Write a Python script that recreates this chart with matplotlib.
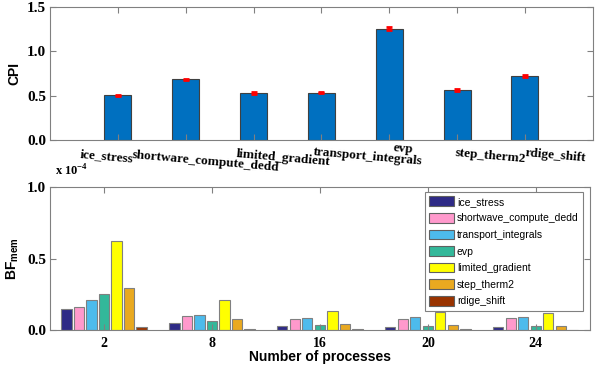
import matplotlib
matplotlib.use("Agg")
import matplotlib.pyplot as plt
import matplotlib.transforms as mtransforms
import numpy as np

# top panel: CPI per kernel
kernels = ["ice_stress", "shortware_compute_dedd", "limited_gradient",
           "transport_integrals", "evp", "step_therm2", "rdige_shift"]
cpi = [0.504, 0.684, 0.526, 0.533, 1.255, 0.560, 0.720]
cpi_err = [0.008, 0.008, 0.012, 0.009, 0.015, 0.009, 0.010]

# bottom panel: BF_mem per process count
procs = ["2", "8", "16", "20", "24"]
series = ["ice_stress", "shortwave_compute_dedd", "transport_integrals", "evp",
          "limited_gradient", "step_therm2", "rdige_shift"]
bf_ice = [0.147, 0.047, 0.030, 0.021, 0.019]
bf_short = [0.164, 0.096, 0.075, 0.077, 0.082]
bf_trans = [0.210, 0.107, 0.082, 0.089, 0.089]
bf_evp = [0.252, 0.065, 0.035, 0.030, 0.028]
bf_limited = [0.621, 0.208, 0.131, 0.126, 0.119]
bf_step = [0.292, 0.075, 0.040, 0.033, 0.028]
bf_rdige = [0.019, 0.007, 0.007, 0.007, 0.003]
bf_values = [bf_ice, bf_short, bf_trans, bf_evp, bf_limited, bf_step, bf_rdige]
colors = ["#2e2a86", "#ff99cc", "#4dbbec", "#33b89a", "#ffff00", "#e9a920", "#993300"]

serif = {"family": "Liberation Serif", "weight": "bold"}
sans = {"family": "Liberation Sans", "weight": "bold"}
grey = "#808080"

fig = plt.figure(figsize=(6.03, 3.72), dpi=100)
ax1 = fig.add_axes([0.083, 0.624, 0.900, 0.357])
ax2 = fig.add_axes([0.083, 0.113, 0.895, 0.384])

# --- top ---
x = np.arange(1, len(kernels) + 1)
ax1.bar(x, cpi, width=0.4, color="#0070c0", edgecolor="#404040", linewidth=0.8)
ax1.errorbar(x, cpi, yerr=cpi_err, fmt="none", ecolor="red", elinewidth=2,
             capsize=2.5, capthick=2)
ax1.set_xlim(0, len(kernels) + 1)
ax1.set_ylim(0, 1.5)
ax1.set_yticks([0, 0.5, 1.0, 1.5])
ax1.set_yticklabels(["0.0", "0.5", "1.0", "1.5"], fontdict=serif, fontsize=11)
ax1.set_xticks(x)
ax1.set_xticklabels([])
# the labels in the original sit a bit off their ticks (pixels: right, down)
label_shift = [(-11, 17), (20, 22), (30, 18), (46, 17), (14, 9), (33, 16), (31, 16)]
for xi, name, (dx, dy) in zip(x, kernels, label_shift):
    off = mtransforms.ScaledTranslation(dx / 100, -dy / 100, fig.dpi_scale_trans)
    ax1.text(xi, 0, name, transform=ax1.get_xaxis_transform() + off,
             fontdict=serif, fontsize=9.5, rotation=-5, rotation_mode="anchor",
             ha="center", va="center")
ax1.set_ylabel("CPI", fontdict=sans, fontsize=10, labelpad=4)

# --- bottom ---
g = np.arange(1, len(procs) + 1)
step = 0.116
for i, (name, vals, c) in enumerate(zip(series, bf_values, colors)):
    off = (i - 3) * step
    ax2.bar(g + off, vals, width=0.095, color=c, edgecolor=grey,
            linewidth=0.8, label=name)
ax2.set_xlim(0.5, len(procs) + 0.5)
ax2.set_ylim(0, 1.0)
ax2.set_yticks([0, 0.5, 1.0])
ax2.set_yticklabels(["0.0", "0.5", "1.0"], fontdict=serif, fontsize=11)
ax2.set_xticks(g)
ax2.set_xticklabels(procs, fontdict=serif, fontsize=10)
ax2.set_xlabel("Number of processes", fontdict=sans, fontsize=10, labelpad=0)
ax2.set_ylabel("BF$_{\\mathregular{mem}}$", fontdict=sans, fontsize=10, labelpad=4)
ax2.text(0.01, 1.06, "x 10$^{\\mathregular{-4}}$", transform=ax2.transAxes,
         fontdict=serif, fontsize=9, va="bottom")
leg = ax2.legend(loc="upper right", bbox_to_anchor=(0.987, 0.965),
                 borderaxespad=0,
                 prop={"family": "Liberation Sans", "size": 7.5},
                 handlelength=2.4, handleheight=1.05, handletextpad=0.3,
                 labelspacing=0.6, borderpad=0.4, fancybox=False,
                 edgecolor=grey, framealpha=1)
leg.get_frame().set_linewidth(0.8)
for h in leg.legend_handles:
    h.set_edgecolor("#606060")

for ax in (ax1, ax2):
    for s in ax.spines.values():
        s.set_color(grey)
    ax.tick_params(direction="in", top=True, right=True, color=grey,
                   length=4, pad=3)
    ax.tick_params(axis="x", pad=5)

fig.savefig("out.png", dpi=100)
